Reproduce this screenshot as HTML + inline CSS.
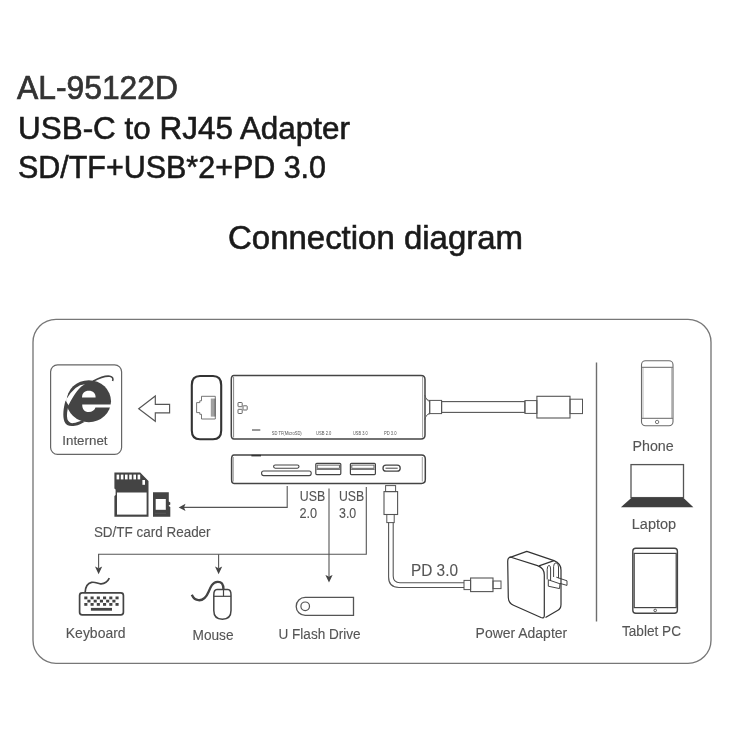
<!DOCTYPE html>
<html><head><meta charset="utf-8">
<style>
html,body{margin:0;padding:0;background:#fff;width:750px;height:750px;overflow:hidden}
svg{display:block;will-change:transform}
text{font-family:"Liberation Sans",sans-serif}
</style></head><body>
<svg width="750" height="750" viewBox="0 0 750 750">
<!-- Titles -->
<g fill="#333" stroke="#333" stroke-width="0.7">
<text x="17" y="98.8" font-size="33" textLength="161" lengthAdjust="spacingAndGlyphs">AL-95122D</text>
</g>
<g fill="#1a1a1a" stroke="#1a1a1a" stroke-width="0.6">
<text x="18" y="138.5" font-size="31" textLength="332" lengthAdjust="spacingAndGlyphs">USB-C to RJ45 Adapter</text>
<text x="18" y="178" font-size="31" textLength="308" lengthAdjust="spacingAndGlyphs">SD/TF+USB*2+PD 3.0</text>
<text x="228" y="249.3" font-size="32.5" textLength="295" lengthAdjust="spacingAndGlyphs">Connection diagram</text>
</g>

<!-- outer frame -->
<rect x="33" y="319.3" width="678" height="344" rx="23" ry="23" fill="none" stroke="#777" stroke-width="1.35"/>

<!-- Internet box -->
<rect x="50.6" y="364.8" width="71" height="89.6" rx="7" fill="none" stroke="#666" stroke-width="1.2"/>
<g id="ie">
  <defs>
    <clipPath id="inC"><ellipse cx="88.8" cy="401.2" rx="22.4" ry="21.2"/></clipPath>
  </defs>
  <ellipse cx="88.8" cy="401.2" rx="22.2" ry="21" fill="#444"/>
  <path d="M82 397.6 L95.6 397.6 C95.6 393 93 390.8 88.8 390.8 C84.6 390.8 82 393 82 397.6 Z" fill="#fff"/>
  <path d="M82.2 404.4 L111.5 404.4 L111.5 407.4 L95.5 407.4 C94.5 410.2 92 412 88.8 412 C84.5 412 82.2 409 82.2 404.4 Z" fill="#fff"/>
  <path d="M65 401.5 Q74.5 384.5 85 384.3 Q78 386.8 68.3 405.5 Z" fill="#fff" clip-path="url(#inC)"/>
  <path d="M65.6 400.5 C63.3 408 62.6 416 64.4 421.5 C65.8 425.5 69.8 426.8 75 425.8 C78.5 425 82 423.2 84.5 421.9 L82.2 420.6 C79 421.8 76 422.8 73.5 423.1 C70.5 423.4 68.3 421.8 67.4 419.2 C66.4 415 67.3 410 68.6 405.4 Z" fill="#444"/>
  <path d="M93 381.2 C99 378 106 375.6 109.8 376.2 C112.6 376.7 113.5 378.6 112.6 381" fill="none" stroke="#444" stroke-width="1.6"/>
</g>
<text x="62.3" y="444.6" font-size="12.3" fill="#555" stroke="#555" stroke-width="0.12" textLength="45.2" lengthAdjust="spacingAndGlyphs">Internet</text>

<!-- arrow to internet -->
<path d="M138.7 408.7 L155.3 396 L155.3 404.4 L169.6 404.4 L169.6 412.8 L155.3 412.8 L155.3 421.3 Z" fill="none" stroke="#555" stroke-width="1.15" stroke-linejoin="miter"/>

<!-- RJ45 housing -->
<path d="M200 376 L213 376 Q221.2 376 221.2 385 L221.2 430.5 Q221.2 439.2 213 439.2 L200 439.2 Q191.8 439.2 191.8 430.5 L191.8 385 Q191.8 376 200 376 Z" fill="none" stroke="#333" stroke-width="2.1"/>
<path d="M201.5 396.3 L215.3 396.3 L215.3 419 L201.5 419 L201.5 414.3 L199.8 414.3 L199.8 412.6 L196.6 412.6 L196.6 402.6 L199.8 402.6 L199.8 400.8 L201.5 400.8 Z" fill="none" stroke="#666" stroke-width="0.9"/>
<g stroke="#555" stroke-width="0.55"><line x1="211.30" y1="398.6" x2="211.30" y2="416.6"/><line x1="212.10" y1="398.6" x2="212.10" y2="416.6"/><line x1="212.90" y1="398.6" x2="212.90" y2="416.6"/><line x1="213.70" y1="398.6" x2="213.70" y2="416.6"/><line x1="214.50" y1="398.6" x2="214.50" y2="416.6"/><line x1="215.30" y1="398.6" x2="215.30" y2="416.6"/></g>

<!-- hub top view -->
<path d="M234 375.5 L421 375.5 Q425 375.5 425 379.5 L425 435 Q425 439 421 439 L234 439 Q231.3 439 231.3 435 L231.3 379.5 Q231.3 375.5 234 375.5 Z" fill="none" stroke="#444" stroke-width="1.5"/>
<line x1="233.6" y1="377" x2="233.6" y2="437.5" stroke="#666" stroke-width="0.8"/>
<line x1="422.6" y1="377" x2="422.6" y2="437.5" stroke="#777" stroke-width="0.7"/>
<g fill="none" stroke="#555" stroke-width="0.9">
<rect x="238" y="402.5" width="4.2" height="4.2" rx="0.6"/>
<rect x="238" y="409.3" width="4.2" height="4.2" rx="0.6"/>
<rect x="243" y="405.8" width="4.2" height="4.2" rx="0.6"/>
</g>
<line x1="252" y1="430" x2="260.3" y2="430" stroke="#333" stroke-width="1"/>
<g fill="#555" font-size="4.6">
<text x="271.7" y="434.6" textLength="30" lengthAdjust="spacingAndGlyphs">SD TF(MicroSD)</text>
<text x="316" y="434.6" textLength="15.4" lengthAdjust="spacingAndGlyphs">USB 2.0</text>
<text x="353" y="434.6" textLength="14.6" lengthAdjust="spacingAndGlyphs">USB 3.0</text>
<text x="384" y="434.6" textLength="12.6" lengthAdjust="spacingAndGlyphs">PD 3.0</text>
</g>
<!-- cable to usb-c plug -->
<path d="M424.8 395 Q426 400.4 429.8 400.6 L429.8 413.8 Q426 414 424.8 419.8" fill="none" stroke="#555" stroke-width="1"/><path d="M425.5 398.5 L429.5 402 M425.5 416.5 L429.5 412.5" fill="none" stroke="#777" stroke-width="0.6"/>
<rect x="429.6" y="400.4" width="12" height="13.2" fill="none" stroke="#555" stroke-width="1"/>
<rect x="441.6" y="401.6" width="83.3" height="10.8" fill="none" stroke="#555" stroke-width="1.1"/>
<rect x="524.9" y="400.6" width="12" height="12.8" fill="none" stroke="#555" stroke-width="1"/>
<rect x="536.9" y="396.3" width="33.1" height="21.7" fill="none" stroke="#555" stroke-width="1.1"/>
<rect x="570" y="399.2" width="12.5" height="14.4" fill="none" stroke="#555" stroke-width="1"/>

<!-- hub side view -->
<path d="M234 455 L421.5 455 Q425.3 455 425.3 459 L425.3 479.5 Q425.3 483.4 421.5 483.4 L234 483.4 Q231.6 483.4 231.6 479.5 L231.6 459 Q231.6 455 234 455 Z" fill="none" stroke="#444" stroke-width="1.5"/>
<line x1="233.3" y1="457" x2="233.3" y2="481.5" stroke="#777" stroke-width="0.7"/>
<line x1="422.3" y1="457" x2="422.3" y2="481.5" stroke="#777" stroke-width="0.7"/>
<line x1="251.4" y1="455.6" x2="261" y2="455.6" stroke="#333" stroke-width="1.6"/>
<rect x="273.6" y="465" width="25.4" height="3.2" rx="1.6" fill="none" stroke="#444" stroke-width="1.1"/>
<rect x="261.6" y="471" width="49.6" height="4.6" rx="2" fill="none" stroke="#444" stroke-width="1.1"/>
<g fill="none" stroke="#444" stroke-width="1.2">
<rect x="315.8" y="463.3" width="25" height="11.3" rx="1"/>
<rect x="350.4" y="463.3" width="25" height="11.3" rx="1"/>
</g>
<g fill="none" stroke="#555" stroke-width="0.9">
<rect x="317.2" y="465.1" width="22.2" height="3.2"/>
<rect x="351.8" y="465.1" width="22.2" height="3.2"/>
<line x1="316.5" y1="469.4" x2="340.1" y2="469.4"/>
<line x1="351.1" y1="469.4" x2="374.7" y2="469.4"/>
</g>
<rect x="383" y="465.2" width="17.2" height="6" rx="3" fill="none" stroke="#444" stroke-width="1.3"/>
<line x1="385.5" y1="468.2" x2="397.7" y2="468.2" stroke="#444" stroke-width="1"/>

<!-- connector lines & arrows -->
<g fill="none" stroke="#555" stroke-width="1.1">
<polyline points="287.2,486 287.2,507.4 183,507.4"/>
<polyline points="366.3,487 366.3,554.2 98.6,554.2 98.6,568"/>
<line x1="218.6" y1="554.2" x2="218.6" y2="568"/>
<line x1="329" y1="488.5" x2="329" y2="576"/>
</g>
<g fill="#444">
<path d="M178.7 507.4 L185.5 503.8 L184 507.4 L185.5 511 Z"/>
<path d="M98.6 574.2 L95 566.6 L98.6 568.2 L102.2 566.6 Z"/>
<path d="M218.6 574.2 L215 566.6 L218.6 568.2 L222.2 566.6 Z"/>
<path d="M329 582.6 L325.4 575 L329 576.6 L332.6 575 Z"/>
</g>

<!-- USB-C plug down + cable to power adapter -->
<rect x="385.6" y="485.6" width="10" height="6" fill="none" stroke="#555" stroke-width="1"/>
<rect x="384" y="491.6" width="13.6" height="22.9" fill="none" stroke="#555" stroke-width="1.1"/>
<rect x="386.8" y="514.5" width="7.4" height="8.1" fill="none" stroke="#555" stroke-width="1"/>
<path d="M388.6 522.6 L388.6 577 Q388.6 587.5 399 587.5 L464 587.5" fill="none" stroke="#555" stroke-width="1.1"/>
<path d="M393.2 522.6 L393.2 576 Q393.2 582.7 400 582.7 L464 582.7" fill="none" stroke="#555" stroke-width="1.1"/>
<rect x="464" y="580.4" width="6.6" height="9.2" fill="none" stroke="#555" stroke-width="1"/>
<rect x="470.6" y="578" width="22.4" height="13.6" fill="none" stroke="#555" stroke-width="1.1"/>
<rect x="493" y="581" width="8" height="7.6" fill="none" stroke="#555" stroke-width="1"/>

<!-- separator -->
<line x1="596.5" y1="362.4" x2="596.5" y2="621.6" stroke="#6e6e6e" stroke-width="1.4"/>

<!-- Phone -->
<rect x="641.5" y="360.8" width="31.5" height="65" rx="4" fill="none" stroke="#6a6a6a" stroke-width="1.1"/>
<text x="632.5" y="451.3" font-size="13.8" fill="#555" stroke="#555" stroke-width="0.12" textLength="41.2" lengthAdjust="spacingAndGlyphs">Phone</text>
<!-- Laptop -->
<rect x="631" y="464.6" width="52.5" height="33" fill="none" stroke="#555" stroke-width="1.3"/>
<path d="M631.5 497.7 L683.3 497.7 L693.4 507.3 L620.9 507.3 Z" fill="#3f3f3f"/>
<text x="631.8" y="529.3" font-size="13.8" fill="#555" stroke="#555" stroke-width="0.12" textLength="44.4" lengthAdjust="spacingAndGlyphs">Laptop</text>
<!-- Tablet -->
<rect x="632.8" y="548.2" width="44.6" height="65" rx="3" fill="none" stroke="#444" stroke-width="1.4"/>
<text x="622.0" y="636.4" font-size="13.8" fill="#555" stroke="#555" stroke-width="0.12" textLength="59.0" lengthAdjust="spacingAndGlyphs">Tablet PC</text>

<!-- SD cards -->
<path d="M114.4 472.5 L140.2 472.5 L148.5 481 L148.5 516.7 L114.4 516.7 L114.4 496 L115.6 495 L115.6 489.5 L114.4 488.5 Z" fill="#444"/>
<rect x="117" y="492.5" width="29.6" height="22.1" fill="#fff"/>
<g fill="#fff">
<rect x="116.6" y="474.6" width="2.6" height="4.8"/>
<rect x="120.8" y="474.6" width="2.6" height="4.8"/>
<rect x="125" y="474.6" width="2.6" height="4.8"/>
<rect x="129.2" y="474.6" width="2.6" height="4.8"/>
<rect x="133.4" y="474.6" width="2.6" height="4.8"/>
<rect x="137.6" y="474.6" width="2.6" height="4.8"/>
<rect x="142.4" y="480" width="2.6" height="4.8"/>
</g>
<path d="M153 492.2 L168.8 492.2 L168.8 501.5 L170.3 502.5 L170.3 504.5 L168.8 505.5 L168.8 506 L170.3 507 L170.3 516.7 L153 516.7 Z" fill="#444"/>
<rect x="155.7" y="499" width="10.1" height="10.8" fill="#fff"/>
<line x1="155" y1="513.3" x2="166" y2="513.3" stroke="#666" stroke-width="0.6"/>

<!-- Keyboard -->
<rect x="79.6" y="592.8" width="43.8" height="22" rx="2.6" fill="none" stroke="#444" stroke-width="1.7"/>
<path d="M85.2 592 C85.5 587 87 583.5 91.5 582.4 C95 581.6 97.5 583.6 100.5 583.8 C104 584 107.5 582 109.3 578.2" fill="none" stroke="#444" stroke-width="1.7"/>
<g fill="#444">
<rect x="84.30" y="596.5" width="3.1" height="2.8"/>
<rect x="84.30" y="603" width="3.1" height="2.8"/>
<rect x="90.54" y="596.5" width="3.1" height="2.8"/>
<rect x="90.54" y="603" width="3.1" height="2.8"/>
<rect x="96.78" y="596.5" width="3.1" height="2.8"/>
<rect x="96.78" y="603" width="3.1" height="2.8"/>
<rect x="103.02" y="596.5" width="3.1" height="2.8"/>
<rect x="103.02" y="603" width="3.1" height="2.8"/>
<rect x="109.26" y="596.5" width="3.1" height="2.8"/>
<rect x="109.26" y="603" width="3.1" height="2.8"/>
<rect x="115.50" y="596.5" width="3.1" height="2.8"/>
<rect x="115.50" y="603" width="3.1" height="2.8"/>
<rect x="87.40" y="599.7" width="3.1" height="2.8"/>
<rect x="93.64" y="599.7" width="3.1" height="2.8"/>
<rect x="99.88" y="599.7" width="3.1" height="2.8"/>
<rect x="106.12" y="599.7" width="3.1" height="2.8"/>
<rect x="112.36" y="599.7" width="3.1" height="2.8"/>
<rect x="90.9" y="607.9" width="21.1" height="2.8"/>
</g>

<!-- Mouse -->
<path d="M213.8 595 Q213.8 589.6 217 589.6 L227.8 589.6 Q231 589.6 231 595 L231 610.5 Q231 619.2 222.4 619.2 Q213.8 619.2 213.8 610.5 Z" fill="none" stroke="#444" stroke-width="1.5"/>
<line x1="213.8" y1="596.3" x2="231" y2="596.3" stroke="#444" stroke-width="1.2"/>
<line x1="223.5" y1="589.6" x2="223.5" y2="596.3" stroke="#444" stroke-width="1.2"/>
<path d="M223.5 589.6 C223.5 584 221.5 581.6 217.5 581.8 C212.5 582 210.5 587 208.5 592 C206 598 202.5 600.5 198.5 600.2 C195 600 193 597.5 191.8 594.8" fill="none" stroke="#444" stroke-width="2.3"/>

<!-- Flash drive -->
<path d="M305.2 597.4 L353.5 597.4 L353.5 615.4 L305.2 615.4 A9 9 0 0 1 305.2 597.4 Z" fill="none" stroke="#555" stroke-width="1.3"/>
<circle cx="305.2" cy="606.3" r="4.3" fill="none" stroke="#555" stroke-width="1.2"/>

<!-- Power adapter -->
<g fill="none" stroke="#333" stroke-width="1.2" stroke-linejoin="round">
<path d="M509.5 557.6 L526.8 551.4 L554 560.6 Q561 563.4 561 570 L561 604.5 Q561 608.6 557.5 610.6 L545.5 617.6"/>
<path d="M511 557.2 L537.5 565.6 Q544.3 568 544.3 575 L544.3 615.5 Q544.3 618.8 541 617.5 L513.5 605.2 Q508.4 603 508.3 597.5 L507.7 561.5 Q507.7 557 511 557.2 Z"/>
<path d="M539 565.9 L554 560.6"/>
</g>
<g fill="none" stroke="#3a3a3a" stroke-width="0.95" stroke-linejoin="round">
<path d="M547.2 579.5 L547.2 569.5 Q547.2 565.6 549 565.4 Q550.6 565.4 550.6 569 L550.6 580.6"/>
<path d="M553.6 577 L553.6 566.5 Q553.8 562.8 556 562.8 Q558.5 563 558.5 567 L558.5 578.2"/>
<path d="M548.3 579.8 L560 583.8 L559.5 588.6 L548.3 586.2 Z"/>
<path d="M556.3 577.2 L567 580.8 L567 585.4 L560 583.4"/>
</g>

<!-- Phone details -->
<line x1="641.8" y1="367.3" x2="672.8" y2="367.3" stroke="#666" stroke-width="1"/>
<line x1="641.8" y1="418.3" x2="672.8" y2="418.3" stroke="#666" stroke-width="1"/>
<line x1="643" y1="367.3" x2="643" y2="418.3" stroke="#888" stroke-width="0.6"/>
<line x1="671.6" y1="367.3" x2="671.6" y2="418.3" stroke="#888" stroke-width="0.6"/>
<circle cx="657.1" cy="422" r="1.7" fill="none" stroke="#666" stroke-width="0.9"/>
<!-- Tablet details -->
<rect x="634.2" y="553.4" width="42" height="54.2" fill="none" stroke="#444" stroke-width="1.2"/>
<circle cx="655.2" cy="610.4" r="1.3" fill="none" stroke="#444" stroke-width="0.9"/>

<!-- labels -->
<text x="93.9" y="536.5" font-size="14" fill="#555" stroke="#555" stroke-width="0.12" textLength="116.7" lengthAdjust="spacingAndGlyphs">SD/TF card Reader</text>
<text x="65.8" y="637.5" font-size="13.8" fill="#555" stroke="#555" stroke-width="0.12" textLength="59.8" lengthAdjust="spacingAndGlyphs">Keyboard</text>
<text x="192.5" y="639.7" font-size="13.8" fill="#555" stroke="#555" stroke-width="0.12" textLength="41.0" lengthAdjust="spacingAndGlyphs">Mouse</text>
<text x="278.5" y="639.4" font-size="13.8" fill="#555" stroke="#555" stroke-width="0.12" textLength="82.1" lengthAdjust="spacingAndGlyphs">U Flash Drive</text>
<text x="475.6" y="637.9" font-size="13.8" fill="#555" stroke="#555" stroke-width="0.12" textLength="91.6" lengthAdjust="spacingAndGlyphs">Power Adapter</text>
<text x="299.8" y="501" font-size="14" fill="#555" stroke="#555" stroke-width="0.12" textLength="25.4" lengthAdjust="spacingAndGlyphs">USB</text>
<text x="299.5" y="517.8" font-size="14" fill="#555" stroke="#555" stroke-width="0.12" textLength="17.7" lengthAdjust="spacingAndGlyphs">2.0</text>
<text x="339" y="501" font-size="14" fill="#555" stroke="#555" stroke-width="0.12" textLength="25.2" lengthAdjust="spacingAndGlyphs">USB</text>
<text x="339" y="517.8" font-size="14" fill="#555" stroke="#555" stroke-width="0.12" textLength="17.2" lengthAdjust="spacingAndGlyphs">3.0</text>
<text x="411" y="575.6" font-size="16.3" fill="#555" stroke="#555" stroke-width="0.12" textLength="47" lengthAdjust="spacingAndGlyphs">PD 3.0</text>
</svg>
</body></html>
